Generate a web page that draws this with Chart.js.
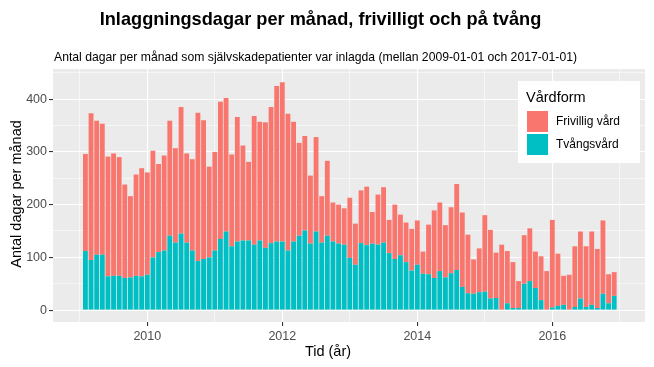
<!DOCTYPE html>
<html>
<head>
<meta charset="utf-8">
<script src="https://cdn.jsdelivr.net/npm/chart.js@4.4.1/dist/chart.umd.min.js"></script>
<style>
html, body { margin: 0; padding: 0; background: #fff; }
#wrap { width: 654px; height: 367px; }
</style>
</head>
<body>
<div id="wrap"><canvas id="chart" width="654" height="367"></canvas></div>
<script>
// dagar per månad, 2009-01 .. 2016-11
var months = [];
for (var yr = 2009; yr <= 2016; yr++) {
    for (var mo = 1; mo <= 12; mo++) {
        if (yr === 2016 && mo === 12) break;
        months.push(yr + '-' + (mo < 10 ? '0' + mo : mo));
    }
}

var frivillig = [
    184, 278, 254, 248, 227, 232, 225, 177, 154, 192, 205, 194,
    202, 167, 180, 218, 179, 240, 169, 173, 281, 263, 172, 187,
    260, 253, 174, 236, 180, 149, 244, 225, 238, 258, 295, 302,
    259, 227, 176, 179, 129, 179, 88, 142, 74, 74, 69, 114,
    78, 100, 111, 60, 95, 105, 63, 103, 77, 75, 79, 84,
    42, 94, 128, 130, 99, 125, 163, 141, 111, 65, 83, 145,
    130, 86, 123, 99, 87, 51, 92, 100, 69, 83, 73, 166,
    99, 55, 67, 115, 127, 115, 139, 112, 139, 55, 45
];
var tvang = [
    112, 95, 105, 105, 64, 65, 65, 61, 62, 65, 64, 67,
    100, 110, 113, 141, 128, 145, 128, 113, 93, 97, 100, 113,
    135, 149, 121, 130, 132, 132, 124, 132, 118, 127, 130, 130,
    113, 130, 141, 151, 126, 149, 128, 141, 130, 126, 124, 99,
    86, 127, 123, 126, 124, 128, 108, 97, 104, 91, 75, 86,
    69, 68, 61, 74, 62, 70, 76, 44, 32, 31, 34, 35,
    22, 23, 1, 13, 4, 4, 50, 55, 42, 19, 1, 5,
    8, 10, 0, 6, 22, 6, 10, 4, 31, 13, 27
];

var xTicks = [2009, 2010, 2011, 2012, 2013, 2014, 2015, 2016, 2017];
var xLabels = [2010, 2012, 2014, 2016];
var yTicks = [0, 50, 100, 150, 200, 250, 300, 350, 400, 450];
var yLabels = [0, 100, 200, 300, 400];

// bar sits at the end of its month
function toYear(label) {
    return +label.slice(0, 4) + (+label.slice(5)) / 12;
}
function points(values) {
    return values.map(function (v, i) { return { x: toYear(months[i]), y: v }; });
}

var FONT = "'Liberation Sans', Arial, sans-serif";
Chart.defaults.font.family = FONT;

var ggTheme = {
    id: 'ggTheme',
    beforeDraw: function (chart) {
        var ctx = chart.ctx, a = chart.chartArea;
        ctx.save();
        ctx.fillStyle = '#ffffff';
        ctx.fillRect(0, 0, chart.width, chart.height);
        ctx.fillStyle = '#EBEBEB';
        ctx.fillRect(a.left, a.top, a.right - a.left, a.bottom - a.top);
        ctx.restore();
    },
    afterDraw: function (chart) {
        var ctx = chart.ctx;
        ctx.save();
        ctx.fillStyle = '#000';
        ctx.textBaseline = 'alphabetic';
        ctx.textAlign = 'center';
        ctx.font = 'bold 18.2px ' + FONT;
        ctx.fillText('Inlaggningsdagar per månad, frivilligt och på tvång', 320.5, 25);
        ctx.textAlign = 'left';
        ctx.font = '12.2px ' + FONT;
        ctx.fillText('Antal dagar per månad som självskadepatienter var inlagda (mellan 2009-01-01 och 2017-01-01)', 54, 61);

        // axis titles
        ctx.font = '14.5px ' + FONT;
        ctx.textAlign = 'center';
        ctx.textBaseline = 'middle';
        ctx.fillText('Tid (år)', 328, 352);
        ctx.save();
        ctx.translate(16.5, 194);
        ctx.rotate(-Math.PI / 2);
        ctx.fillText('Antal dagar per månad', 0, 0);
        ctx.restore();

        // legend
        ctx.fillStyle = '#ffffff';
        ctx.fillRect(518, 81, 122, 82);
        ctx.fillStyle = '#000';
        ctx.textAlign = 'left';
        ctx.textBaseline = 'alphabetic';
        ctx.font = '14.5px ' + FONT;
        ctx.fillText('Vårdform', 526, 102);
        var order = [1, 0];
        ctx.font = '12px ' + FONT;
        ctx.textBaseline = 'middle';
        order.forEach(function (di, row) {
            var ds = chart.data.datasets[di];
            var top = 111 + row * 23;
            ctx.fillStyle = ds.backgroundColor;
            ctx.fillRect(527, top, 21, 21);
            ctx.fillStyle = '#000';
            ctx.fillText(ds.label, 556, top + 11);
        });
        ctx.restore();
    }
};

function isMajor(list, v) { return list.indexOf(v) !== -1; }

new Chart(document.getElementById('chart'), {
    type: 'bar',
    data: {
        datasets: [
            { label: 'Tvångsvård', data: points(tvang), backgroundColor: '#00BFC4' },
            { label: 'Frivillig vård', data: points(frivillig), backgroundColor: '#F8766D' }
        ]
    },
    options: {
        responsive: false,
        animation: false,
        devicePixelRatio: 1,
        layout: { padding: { top: 69, right: 9, left: 0, bottom: 0 } },
        plugins: { legend: { display: false }, tooltip: { enabled: false } },
        datasets: { bar: { barPercentage: 0.86, categoryPercentage: 1, borderWidth: 0 } },
        scales: {
            x: {
                type: 'linear',
                stacked: true,
                offset: false,
                min: 2008.603,
                max: 2017.373,
                afterBuildTicks: function (s) { s.ticks = xTicks.map(function (v) { return { value: v }; }); },
                afterFit: function (s) { s.height = 45; },
                border: { display: false },
                grid: {
                    offset: false,
                    color: '#ffffff',
                    lineWidth: function (c) { return isMajor(xLabels, c.tick && c.tick.value) ? 1.1 : 0.55; },
                    tickColor: function (c) { return isMajor(xLabels, c.tick && c.tick.value) ? '#333333' : 'rgba(0,0,0,0)'; },
                    tickWidth: 1.1,
                    tickLength: 4
                },
                ticks: {
                    autoSkip: false,
                    maxRotation: 0,
                    padding: 3,
                    color: '#4D4D4D',
                    font: { size: 12.5 },
                    callback: function (v) { return isMajor(xLabels, v) ? String(v) : ''; }
                }
            },
            y: {
                stacked: true,
                min: -22.5,
                max: 457,
                afterBuildTicks: function (s) { s.ticks = yTicks.map(function (v) { return { value: v }; }); },
                afterFit: function (s) { s.width = 53; },
                border: { display: false },
                grid: {
                    color: '#ffffff',
                    lineWidth: function (c) { return isMajor(yLabels, c.tick && c.tick.value) ? 1.1 : 0.55; },
                    tickColor: function (c) { return isMajor(yLabels, c.tick && c.tick.value) ? '#333333' : 'rgba(0,0,0,0)'; },
                    tickWidth: 1.1,
                    tickLength: 4
                },
                ticks: {
                    padding: 2,
                    color: '#4D4D4D',
                    font: { size: 12.5 },
                    callback: function (v) { return isMajor(yLabels, v) ? String(v) : ''; }
                }
            }
        }
    },
    plugins: [ggTheme]
});
</script>
</body>
</html>
